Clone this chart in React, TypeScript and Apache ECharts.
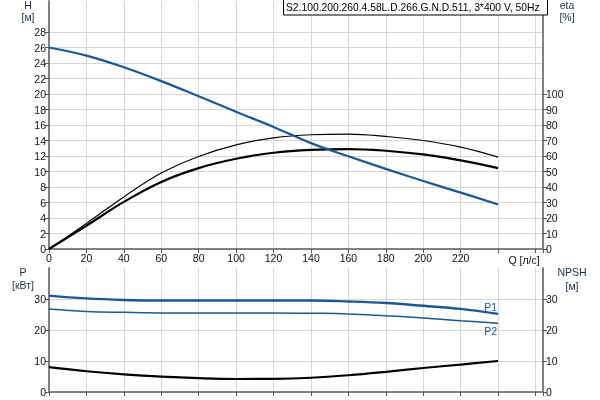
import React, { useEffect, useRef } from "react";
import * as echarts from "echarts";

const qValues = [0, 20, 40, 60, 80, 100, 120, 140, 160, 180, 200, 220, 240];
const headH = [26, 24.95, 23.45, 21.66, 19.7, 17.7, 15.75, 13.66, 11.96, 10.34, 8.77, 7.28, 5.75];
const etaPump = [0, 16.5, 33.6, 49, 59.7, 67.2, 71.7, 73.7, 74.1, 72.6, 70, 65.7, 59.3];
const etaTotal = [0, 15, 30.4, 43.3, 52.2, 58.2, 62.1, 64, 64.5, 63.4, 61, 57.2, 52.2];
const powerP1 = [31.1, 30.2, 29.7, 29.5, 29.5, 29.5, 29.5, 29.5, 29.2, 28.7, 27.8, 26.8, 25.2];
const powerP2 = [26.8, 26.0, 25.7, 25.5, 25.5, 25.5, 25.5, 25.4, 25.2, 24.6, 23.9, 23.0, 22.2];
const npsh = [8.0, 6.7, 5.7, 4.95, 4.45, 4.2, 4.25, 4.6, 5.4, 6.5, 7.75, 8.85, 10.0];

const hTicks = [0, 2, 4, 6, 8, 10, 12, 14, 16, 18, 20, 22, 24, 26, 28];
const etaTicks = [0, 10, 20, 30, 40, 50, 60, 70, 80, 90, 100];
const pTicks = [0, 10, 20, 30];
const npshTicks = [0, 10, 20, 30];

const title = "S2.100.200.260.4.58L.D.266.G.N.D.511, 3*400 V, 50Hz";

const FONT = "'Liberation Sans', Arial, sans-serif";
const FS = 10.5;
const AXIS_GRAY = "#808080";
const GRID = "#d6d6d6";
const BLUE = "#1b5896";

const pairs = (ys: number[]) => qValues.map((q, i) => [q, ys[i]]);

export default function App() {
  const ref = useRef<HTMLDivElement>(null);
  useEffect(() => {
    if (!ref.current) return;
    const chart = echarts.init(ref.current, null, { renderer: "svg" });
    const xBase = (grid: number, showLabels: boolean) => ({
      type: "value",
      gridIndex: grid,
      min: 0,
      max: 264,
      interval: 20,
      axisLine: { show: true, onZero: false, lineStyle: { color: AXIS_GRAY, width: 2 } },
      axisTick: { show: true, length: 4, lineStyle: { color: "#555" } },
      axisLabel: {
        show: showLabels,
        margin: 3,
        fontSize: FS,
        fontFamily: FONT,
        color: "#111",
        formatter: (v: number) => (v <= 220 ? String(v) : ""),
      },
      splitLine: { show: true, lineStyle: { color: GRID, width: 1 } },
    });
    const yBase = (grid: number, pos: string, max: number, interval: number, ticks: number[], split: boolean, splitColors?: string[]) => ({
      type: "value",
      gridIndex: grid,
      position: pos,
      min: 0,
      max,
      interval,
      axisLine: { show: true, onZero: false, lineStyle: { color: AXIS_GRAY, width: 2 } },
      axisTick: { show: true, length: 4, customValues: ticks, lineStyle: { color: "#555" } },
      axisLabel: {
        show: true,
        customValues: ticks,
        margin: 3,
        fontSize: FS,
        fontFamily: FONT,
        color: "#111",
      },
      splitLine: { show: split, lineStyle: { color: splitColors || GRID, width: 1 } },
    });
    const option: any = {
      animation: false,
      grid: [
        { left: 49, right: 57, top: 1, height: 248 },
        { left: 49, right: 57, top: 268, height: 124 },
      ],
      xAxis: [xBase(0, true), xBase(1, false)],
      yAxis: [
        yBase(0, "left", 32, 2, hTicks, true),
        yBase(0, "right", 160, 10, etaTicks, false),
        yBase(1, "left", 40, 10, pTicks, true, [GRID, GRID, GRID, GRID, "rgba(0,0,0,0)"]),
        yBase(1, "right", 40, 10, npshTicks, false),
      ],
      series: [
        {
          type: "line", name: "H", xAxisIndex: 0, yAxisIndex: 0, data: pairs(headH),
          smooth: 0.4, showSymbol: false, lineStyle: { color: BLUE, width: 2.2 }, z: 5,
        },
        {
          type: "line", name: "eta pump", xAxisIndex: 0, yAxisIndex: 1, data: pairs(etaPump),
          smooth: 0.4, showSymbol: false, lineStyle: { color: "#000", width: 1.2 }, z: 4,
        },
        {
          type: "line", name: "eta total", xAxisIndex: 0, yAxisIndex: 1, data: pairs(etaTotal),
          smooth: 0.4, showSymbol: false, lineStyle: { color: "#000", width: 2.2 }, z: 4,
        },
        {
          type: "line", name: "P1", xAxisIndex: 1, yAxisIndex: 2, data: pairs(powerP1),
          smooth: 0.4, showSymbol: false, lineStyle: { color: BLUE, width: 2.4 }, z: 5,
        },
        {
          type: "line", name: "P2", xAxisIndex: 1, yAxisIndex: 2, data: pairs(powerP2),
          smooth: 0.4, showSymbol: false, lineStyle: { color: BLUE, width: 1.5 }, z: 5,
        },
        {
          type: "line", name: "NPSH", xAxisIndex: 1, yAxisIndex: 3, data: pairs(npsh),
          smooth: 0.4, showSymbol: false, lineStyle: { color: "#000", width: 2.2 }, z: 4,
        },
      ],
    };
    chart.setOption(option);

    const lastQ = qValues[qValues.length - 1];
    const p1End = chart.convertToPixel({ xAxisIndex: 1, yAxisIndex: 2 } as any, [lastQ, powerP1[powerP1.length - 1]]) as number[];
    const p2End = chart.convertToPixel({ xAxisIndex: 1, yAxisIndex: 2 } as any, [lastQ, powerP2[powerP2.length - 1]]) as number[];

    const txt = (x: number, y: number, text: string, color = "#1f2f4a", align = "center", size = FS) => ({
      type: "text",
      x,
      y,
      z: 50,
      style: { text, fill: color, font: `${size}px ${FONT}`, textAlign: align, textVerticalAlign: "middle" },
    });

    chart.setOption({
      graphic: [
        {
          type: "rect",
          z: 40,
          shape: { x: 283.5, y: -0.5, width: 264, height: 15.5 },
          style: { fill: "#fff", stroke: "#000", lineWidth: 1 },
        },
        txt(286, 7.5, title, "#000", "left", 10.3),
        txt(28, 5, "H"),
        txt(28, 17, "[м]"),
        txt(567, 5, "eta"),
        txt(567, 17, "[%]"),
        txt(524, 260, "Q [л/с]", "#111"),
        txt(23, 272, "P"),
        txt(23, 285, "[кВт]"),
        txt(572, 272, "NPSH"),
        txt(572, 286, "[м]"),
        txt(p1End[0] - 1, p1End[1] - 7, "P1", BLUE, "right"),
        txt(p2End[0] - 1, p2End[1] + 8, "P2", BLUE, "right"),
      ],
    });

    return () => chart.dispose();
  }, []);
  return <div ref={ref} style={{ position: "fixed", left: 0, top: 0, width: 600, height: 400 }} />;
}
